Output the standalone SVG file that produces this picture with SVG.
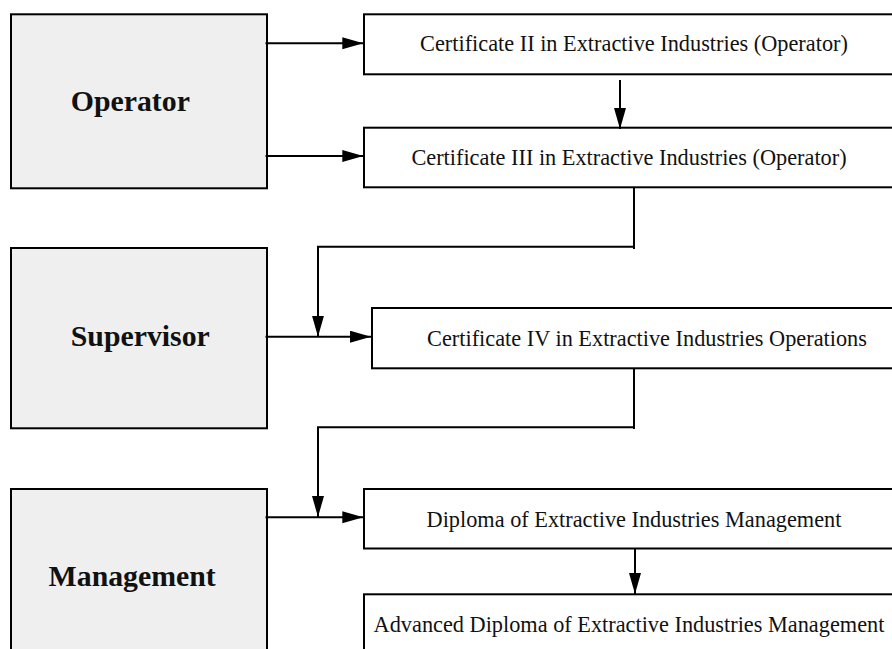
<svg xmlns="http://www.w3.org/2000/svg" width="892" height="649" viewBox="0 0 892 649">
<style>
.role rect{fill:#efefef;stroke:#000;stroke-width:2}
.role text{font-family:"Liberation Serif","Times New Roman",serif;font-weight:bold;font-size:29.8px;fill:#111;text-anchor:middle}
.qual rect{fill:#fff;stroke:#000;stroke-width:2}
.qual text{font-family:"Liberation Serif","Times New Roman",serif;font-size:22.3px;fill:#111;text-anchor:middle}
#connectors path{fill:none;stroke:#000;stroke-width:2}
</style>
<defs>
<marker id="arr" markerUnits="userSpaceOnUse" markerWidth="22" markerHeight="13" refX="21" refY="6" orient="auto">
<path d="M0,0 L21,6 L0,12 z" fill="#000"/>
</marker>
</defs>
<rect width="892" height="649" fill="#fff"/>
<g id="operator" class="role"><rect x="11" y="14.3" width="256" height="174"/><text x="130.3" y="110.7">Operator</text></g>
<g id="supervisor" class="role"><rect x="11" y="248" width="256" height="180.3"/><text x="140.3" y="345.5">Supervisor</text></g>
<g id="management" class="role"><rect x="11" y="489" width="256" height="180"/><text x="132.2" y="585.7">Management</text></g>
<g id="cert2" class="qual"><rect x="364" y="14.3" width="560" height="60"/><text x="634" y="50.5">Certificate II in Extractive Industries (Operator)</text></g>
<g id="cert3" class="qual"><rect x="364" y="127.7" width="560" height="59.6"/><text x="629" y="165">Certificate III in Extractive Industries (Operator)</text></g>
<g id="cert4" class="qual"><rect x="372" y="308" width="560" height="60.3"/><text x="647" y="345.5">Certificate IV in Extractive Industries Operations</text></g>
<g id="diploma" class="qual"><rect x="364" y="489" width="560" height="59.5"/><text x="634" y="526.5">Diploma of Extractive Industries Management</text></g>
<g id="advdiploma" class="qual"><rect x="364" y="594.3" width="560" height="80"/><text x="629" y="632">Advanced Diploma of Extractive Industries Management</text></g>
<g id="connectors">
<path d="M265.5,43.3 H363.3" marker-end="url(#arr)"/>
<path d="M265.5,156 H363.3" marker-end="url(#arr)"/>
<path d="M620,80 V129" marker-end="url(#arr)"/>
<path d="M634,187 V249"/>
<path d="M634,246.7 H318 V336.7" marker-end="url(#arr)"/>
<path d="M265.5,336.7 H371" marker-end="url(#arr)"/>
<path d="M634,368 V429"/>
<path d="M634,427.3 H318 V517" marker-end="url(#arr)"/>
<path d="M265.5,517.3 H363.3" marker-end="url(#arr)"/>
<path d="M635,548.5 V594" marker-end="url(#arr)"/>
</g>
</svg>
